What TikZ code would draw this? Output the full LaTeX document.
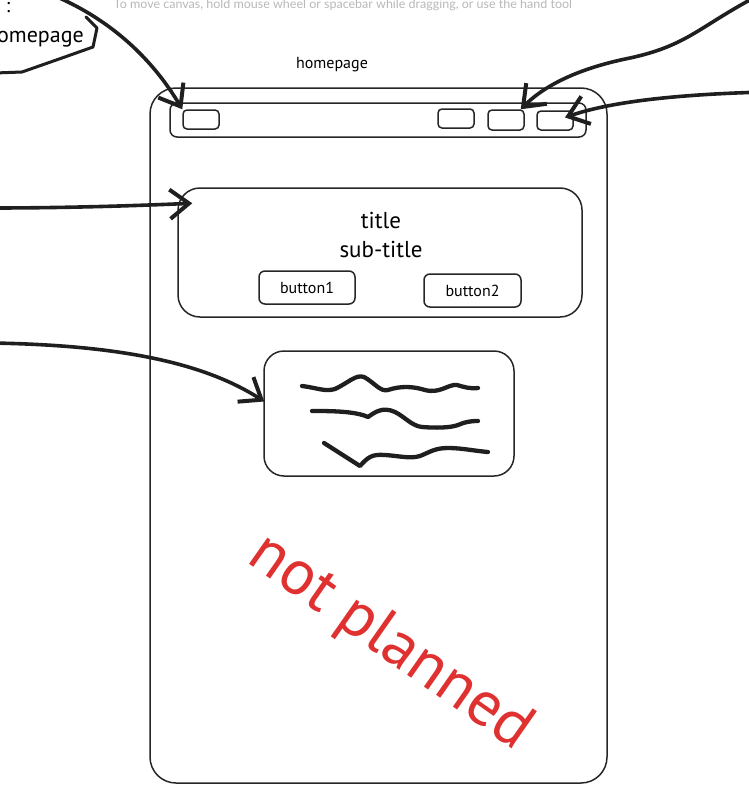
\documentclass[tikz,border=0pt]{standalone}
\usepackage{fontspec}
\setmainfont{PT Sans}
\newfontfamily\uifont{Lato}
\usetikzlibrary{arrows.meta,calc}
\definecolor{redink}{HTML}{E03131}
\definecolor{hint}{HTML}{B8B8B8}
\tikzset{
  box/.style={draw=black!85, line width=1.5pt, inner sep=0pt, rounded corners=#1},
  box/.default=8pt,
  arr/.style={draw=black!88, line width=3.6pt, line cap=round, -{Straight Barb[angle=75:24pt,line width=4pt]}},
  squig/.style={draw=black!88, line width=4.3pt, line cap=round, line join=round},
  lbl/.style={inner sep=0pt, font=\fontsize{16}{18}\selectfont},
}
\begin{document}
\begin{tikzpicture}[x=1pt,y=-1pt]
\useasboundingbox (0,0) rectangle (748,803);

% hint text
\node[inner sep=0pt, text=hint, font=\uifont\fontsize{12.5}{14}\selectfont] (hinttext) at (343,5)
  {To move canvas, hold mouse wheel or spacebar while dragging, or use the hand tool};

% top-left partial shape
\draw[line width=3pt, draw=black!88, line join=round, line cap=round]
  (86,17) -- (97,28) -- (93,47) -- (62,58) -- (22,72) -- (-5,73);
\node[lbl, anchor=east, font=\fontsize{22}{24}\selectfont] (homeref) at (84,37) {homepage};
\node[lbl, font=\fontsize{20}{22}\selectfont] (colon) at (8,8) {:};

% page label
\node[lbl] (pagelabel) at (332,65) {homepage};

% phone frame
\node[box=26pt, minimum width=457pt, minimum height=695pt] (frame) at (378.5,435.5) {};

% header bar
\node[box=7pt, minimum width=416pt, minimum height=34pt] (header) at (378,120) {};
\node[box=4pt, minimum width=36pt, minimum height=19pt] (hb1) at (201,119.5) {};
\node[box=4pt, minimum width=36pt, minimum height=19pt] (hb2) at (456,118.5) {};
\node[box=4pt, minimum width=36pt, minimum height=20pt] (hb3) at (506,120) {};
\node[box=4pt, minimum width=36pt, minimum height=19pt] (hb4) at (555,120.5) {};

% hero
\node[box=22pt, minimum width=404pt, minimum height=129pt] (hero) at (380,252.5) {};
\node[inner sep=0pt, font=\fontsize{23}{29}\selectfont, align=center] (title) at (381,235) {title\\sub-title};
\node[box=6pt, minimum width=96pt, minimum height=33pt, font=\fontsize{16}{18}\selectfont] (btn1) at (307,287.5) {button1};
\node[box=6pt, minimum width=97pt, minimum height=33pt, font=\fontsize{16}{18}\selectfont] (btn2) at (472.5,290.5) {button2};

% content
\node[box=20pt, minimum width=250pt, minimum height=125pt] (content) at (389,413.5) {};
\draw[squig] (302,386) .. controls (318,388) and (325,392) .. (335,389) .. controls (348,383) and (356,374) .. (364,377)
  .. controls (375,383) and (380,392) .. (388,390) .. controls (400,386) and (412,386) .. (425,390)
  .. controls (440,394) and (448,384) .. (457,385) .. controls (464,387) and (470,389) .. (478,388);
\draw[squig] (312,411) .. controls (330,411) and (355,411) .. (368,417) .. controls (374,413) and (382,406) .. (395,412)
  .. controls (405,417) and (412,426) .. (422,427) .. controls (435,428) and (450,428) .. (458,425)
  .. controls (465,422) and (470,421) .. (478,421);
\draw[squig] (324,443) -- (360,466) .. controls (368,457) and (372,454) .. (385,455) .. controls (400,456) and (410,459) .. (420,456)
  .. controls (430,452) and (435,448) .. (448,448) .. controls (462,448) and (475,451) .. (488,452);

% not planned
\node[inner sep=0pt, text=redink, rotate=-35, font=\fontsize{64}{70}\selectfont] (np) at (390,643) {not planned};

% arrows
\coordinate (a1s) at (45,-8);
\coordinate (a2s) at (765,-8);
\coordinate (a3s) at (765,92);
\coordinate (a4s) at (-8,208);
\coordinate (a5s) at (-8,343);
\coordinate (a2t) at ($(hb3.north east)+(-4,0)$);
\coordinate (a3t) at ($(hb4.center)+(10,-3)$);
\coordinate (a4t) at ($(hero.north west)+(15,16)$);
\coordinate (a5t) at ($(content.west)+(1,-12)$);

\draw[arr] (a1s) .. controls (105,15) and (150,55) .. (hb1.north west);
\draw[arr] (a2s) .. controls (700,25) and (690,45) .. (630,58) .. controls (570,70) and (540,90) .. (a2t);
\draw[arr] (a3s) .. controls (690,94) and (615,100) .. (a3t);
\draw[arr] (a4s) .. controls (60,208) and (130,206) .. (a4t);
\draw[arr] (a5s) .. controls (110,345) and (200,360) .. (a5t);
\end{tikzpicture}
\end{document}
